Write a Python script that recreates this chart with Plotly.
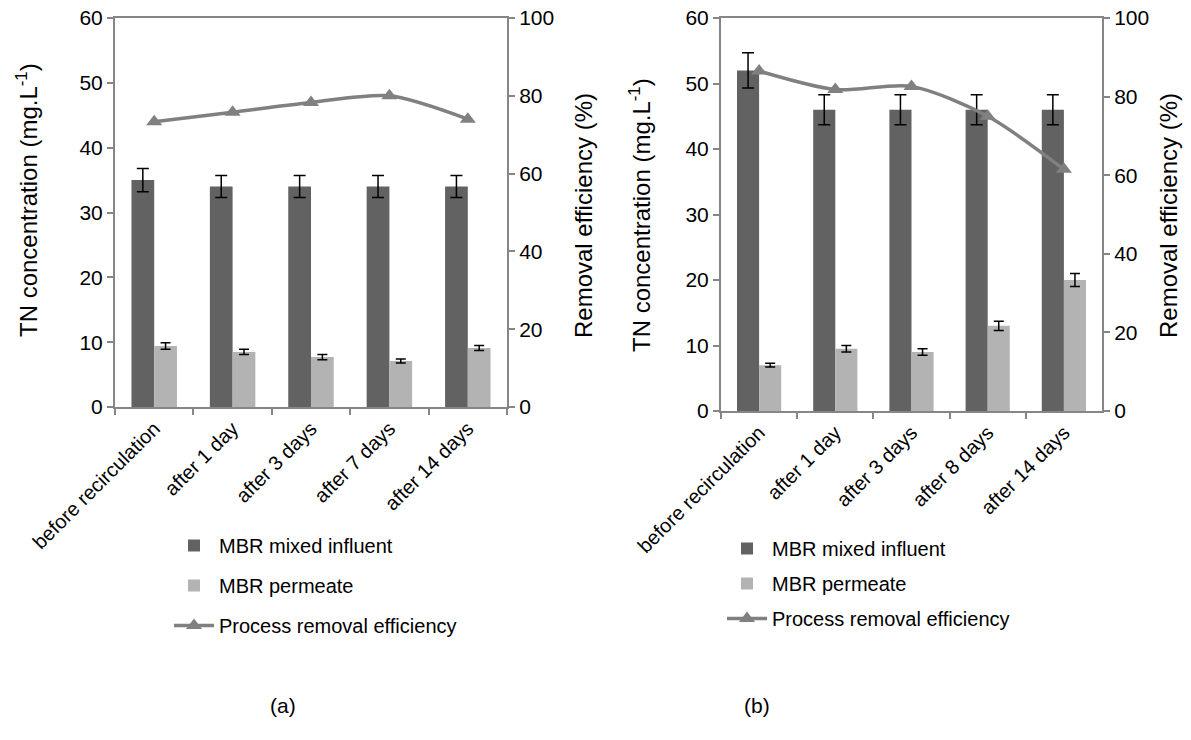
import plotly.graph_objects as go

cats_a = ["before recirculation", "after 1 day", "after 3 days", "after 7 days", "after 14 days"]
infl_a = [35, 34, 34, 34, 34]
infl_a_err = [1.8, 1.7, 1.7, 1.7, 1.7]
perm_a = [9.4, 8.5, 7.7, 7.1, 9.1]
perm_a_err = [0.5, 0.4, 0.4, 0.3, 0.4]
eff_a = [73.3, 75.8, 78.3, 80.0, 74.0]

cats_b = ["before recirculation", "after 1 day", "after 3 days", "after 8 days", "after 14 days"]
infl_b = [52, 46, 46, 46, 46]
infl_b_err = [2.7, 2.3, 2.3, 2.3, 2.3]
perm_b = [7.0, 9.5, 9.0, 13.0, 20.0]
perm_b_err = [0.3, 0.5, 0.5, 0.7, 1.0]
eff_b = [86.5, 81.8, 82.6, 75.0, 61.5]

y_title_left = "TN concentration (mg.L<sup>-1</sup>)"
y_title_right = "Removal efficiency (%)"
panel_labels = ["(a)", "(b)"]

DARK = "#626262"
LIGHT = "#b3b3b3"
LINE = "#808080"
AXC = "#868686"
FONT = "Liberation Sans, Arial, sans-serif"

# page body has an 8px margin; work in page pixel coordinates
W, H = 1175, 724
OFF = 8

def px(x):
    return (x - OFF) / W

def py(y):
    return 1 - (y - OFF) / H

fig = go.Figure()

def add_panel(cats, infl, infl_err, perm, perm_err, eff, xa, ya, ya2, leg):
    fig.add_trace(go.Bar(x=cats, y=infl, name="MBR mixed influent", marker_color=DARK,
                         marker_line_width=0, xaxis=xa, yaxis=ya, legend=leg,
                         offsetgroup="1", legendgroup=leg + "a",
                         error_y=dict(type="data", array=infl_err, color="black", thickness=1.5, width=6)))
    fig.add_trace(go.Bar(x=cats, y=perm, name="MBR permeate", marker_color=LIGHT,
                         marker_line_width=0, xaxis=xa, yaxis=ya, legend=leg,
                         offsetgroup="2", legendgroup=leg + "b",
                         error_y=dict(type="data", array=perm_err, color="black", thickness=1.5, width=5)))
    fig.add_trace(go.Scatter(x=cats, y=eff, name="Process removal efficiency", mode="lines+markers",
                             line=dict(color=LINE, width=3.5, shape="spline", smoothing=0.8),
                             marker=dict(symbol="triangle-up", size=14, color=LINE),
                             xaxis=xa, yaxis=ya2, legend=leg, legendgroup=leg + "c"))

add_panel(cats_a, infl_a, infl_a_err, perm_a, perm_a_err, eff_a, "x", "y", "y2", "legend")
add_panel(cats_b, infl_b, infl_b_err, perm_b, perm_b_err, eff_b, "x2", "y3", "y4", "legend2")

tickfont = dict(family=FONT, size=21, color="black")
xtickfont = dict(family=FONT, size=20, color="black")
titlefont = dict(family=FONT, size=24, color="black")

xcommon = dict(showline=True, linecolor=AXC, linewidth=2, mirror=True, ticks="outside",
               tickson="boundaries", ticklen=6, tickcolor=AXC, tickwidth=1.5,
               tickangle=-45, tickfont=xtickfont, showgrid=False, zeroline=False,
               automargin=False, ticklabeloverflow="allow")
ycommon = dict(showline=True, linecolor=AXC, linewidth=2, ticks="outside", ticklen=6,
               tickcolor=AXC, tickwidth=1.5, tickfont=tickfont, showgrid=False, zeroline=False,
               automargin=False, ticklabeloverflow="allow")

def vtitle(text, x, y):
    return dict(text=text, x=px(x), y=py(y), xref="paper", yref="paper",
                showarrow=False, textangle=-90, font=titlefont, xanchor="center", yanchor="middle")

def label(text, x, y):
    return dict(text=text, x=px(x), y=py(y), xref="paper", yref="paper",
                showarrow=False, xanchor="center", yanchor="middle",
                font=dict(family=FONT, size=21, color="black"))

legfont = dict(family=FONT, size=20, color="black")

fig.update_layout(
    width=W, height=H,
    margin=dict(l=0, r=0, t=0, b=0),
    paper_bgcolor="white", plot_bgcolor="white",
    barmode="group", bargap=0.42, bargroupgap=0,
    font=dict(family=FONT, color="black"),
    xaxis=dict(domain=[px(115), px(507)], anchor="y", **xcommon),
    yaxis=dict(domain=[py(407), py(18)], anchor="x", range=[0, 60], dtick=10, **ycommon),
    yaxis2=dict(overlaying="y", side="right", anchor="x", range=[0, 100], dtick=20, **ycommon),
    xaxis2=dict(domain=[px(721), px(1102)], anchor="y3", **xcommon),
    yaxis3=dict(domain=[py(411), py(18)], anchor="x2", range=[0, 60], dtick=10, **ycommon),
    yaxis4=dict(overlaying="y3", side="right", anchor="x2", range=[0, 100], dtick=20, **ycommon),
    legend=dict(x=px(169), y=py(526), xanchor="left", yanchor="top",
                font=legfont, tracegroupgap=11, bgcolor="rgba(0,0,0,0)", itemwidth=40),
    legend2=dict(x=px(722), y=py(529), xanchor="left", yanchor="top",
                 font=legfont, tracegroupgap=6, bgcolor="rgba(0,0,0,0)", itemwidth=40),
    annotations=[
        vtitle(y_title_left, 27, 200),
        vtitle(y_title_right, 584, 216),
        vtitle(y_title_left, 640, 215),
        vtitle(y_title_right, 1169, 216),
        label(panel_labels[0], 283, 705),
        label(panel_labels[1], 757, 705),
    ],
)

fig.write_html("out.html")
